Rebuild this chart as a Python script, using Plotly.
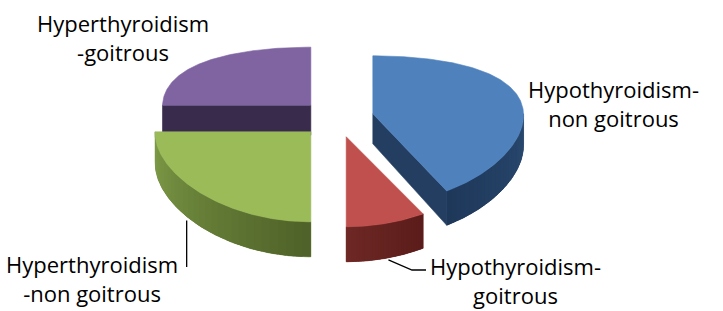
import numpy as np
import plotly.graph_objects as go

# ---------------- data ----------------
categories = ["Hypothyroidism-non goitrous", "Hypothyroidism-goitrous",
              "Hyperthyroidism-non goitrous", "Hyperthyroidism-goitrous"]
values = [42, 8, 25, 25]
label_text = ["Hypothyroidism-<br>non goitrous", "Hypothyroidism-<br>goitrous",
              "Hyperthyroidism<br>-non goitrous", "Hyperthyroidism<br>-goitrous"]

# ---------------- styles ----------------
top_colors = ["#4F81BD", "#C0504D", "#9BBB59", "#8064A2"]
cut_colors = ["#233E61", "#5E1F1D", "#4F6228", "#382B4B"]
side_right = ["#2A4A70", "#5A1C1A", "#4E6128", "#382B4B"]
side_left = ["#1E385A", "#6E2825", "#809E48", "#382B4B"]

W, H = 723, 311
CX, CY = 337.0, 118.5      # pie centre (pixel space)
EXPLODE, KE = 37.0, 0.51   # explosion distance, vertical squash of explosion
RX = 152.0
RY_MID, RY_PERSP = 74.0, 16.0
DEPTH, DEPTH_PERSP = 30.0, 5.0
PERSP_SCALE = 0.0018       # slices nearer the viewer look slightly wider


def hex2rgb(h):
    h = h.lstrip("#")
    return np.array([int(h[i:i + 2], 16) for i in (0, 2, 4)], dtype=float)


def lerp_col(c0, c1, t):
    c = hex2rgb(c0) * (1 - t) + hex2rgb(c1) * t
    return "rgb(%d,%d,%d)" % tuple(np.round(c).astype(int))


def rim(ax, ay, th):
    t = np.radians(th)
    s = 1 + PERSP_SCALE * (ay - CY)
    x = ax + RX * s * np.sin(t) * (1 - 0.02 * np.cos(t))
    y = ay - np.cos(t) * (RY_MID - RY_PERSP * np.cos(t))
    return x, y


def depth(th):
    return DEPTH - DEPTH_PERSP * np.cos(np.radians(th))


total = float(sum(values))
cum = np.concatenate([[0], np.cumsum(values)]) / total * 360.0

slices = []
for i, v in enumerate(values):
    a0, a1 = cum[i], cum[i + 1]
    b = np.radians((a0 + a1) / 2)
    ax = CX + EXPLODE * np.sin(b)
    ay = CY - EXPLODE * np.cos(b) * KE
    slices.append((i, a0, a1, ax, ay))

# back-to-front painter order
order = sorted(slices, key=lambda s: s[4])

fig = go.Figure()


def poly(xs, ys, color, lw=0.6):
    fig.add_trace(go.Scatter(x=list(xs) + [xs[0]], y=list(ys) + [ys[0]],
                             mode="lines", fill="toself", fillcolor=color,
                             line=dict(color=color, width=lw),
                             hoverinfo="skip", showlegend=False))


def side_poly(ax, ay, t0, t1):
    th = np.linspace(t0, t1, max(4, int(abs(t1 - t0) * 2)))
    xt, yt = rim(ax, ay, th)
    yb = yt + depth(th)
    return np.concatenate([xt, xt[::-1]]), np.concatenate([yt, yb[::-1]])


for i, a0, a1, ax, ay in order:
    d0 = DEPTH
    # cut faces
    for edge, vis in ((a0, np.sin(np.radians(a0)) < -1e-6),
                      (a1, np.sin(np.radians(a1)) > 1e-6)):
        if vis:
            rx_, ry_ = rim(ax, ay, edge)
            poly([ax, rx_, rx_, ax], [ay, ry_, ry_ + depth(edge), ay + d0],
                 cut_colors[i])
    # outer side (front half only), gradient built of overlapping strips
    s0, s1 = max(a0, 90.0), min(a1, 270.0)
    if s1 > s0:
        xs, ys = side_poly(ax, ay, s0, s1)
        poly(xs, ys, lerp_col(side_right[i], side_left[i], 0.5), lw=0.6)
        n = 30
        edges = np.linspace(s0, s1, n + 1)
        step = edges[1] - edges[0]
        for k in range(n):
            hi = min(edges[k + 1] + step * 0.8, s1)
            xs, ys = side_poly(ax, ay, edges[k], hi)
            col = lerp_col(side_right[i], side_left[i], (k + 0.5) / n)
            poly(xs, ys, col, lw=0)
    # top face
    th = np.linspace(a0, a1, 200)
    xt, yt = rim(ax, ay, th)
    poly(np.concatenate([[ax], xt]), np.concatenate([[ay], yt]), top_colors[i])

# leader lines (from slice geometry to label)
sl = {s[0]: s for s in slices}
# Hyperthyroidism-non goitrous (green)
_, g0, g1, gx, gy = sl[2]
lx, ly = rim(gx, gy, 232.0)
ly = ly + depth(232.0)
fig.add_trace(go.Scatter(x=[lx, lx], y=[ly + 4, 267], mode="lines",
                         line=dict(color="black", width=1.3),
                         hoverinfo="skip", showlegend=False))
# Hypothyroidism-goitrous (red)
_, r0, r1, rxp, ryp = sl[1]
lx, ly = rim(rxp, ryp, 164.7)
ly = ly + depth(164.7)
fig.add_trace(go.Scatter(x=[lx, 412, 426], y=[ly + 2, 270, 270], mode="lines",
                         line=dict(color="black", width=1.3),
                         hoverinfo="skip", showlegend=False))

# labels
label_pos = [(613, 103), (515, 280), (92, 278), (123, 37)]
for txt, (x, y) in zip(label_text, label_pos):
    fig.add_annotation(x=x, y=y, text=txt, showarrow=False, xanchor="center",
                       yanchor="middle", align="center",
                       font=dict(family="Open Sans", size=22, color="black"))

fig.update_layout(width=W, height=H, margin=dict(l=0, r=0, t=0, b=0),
                  paper_bgcolor="white", plot_bgcolor="white",
                  xaxis=dict(range=[0, W], visible=False, fixedrange=True),
                  yaxis=dict(range=[H, 0], visible=False, fixedrange=True))

fig.write_html("out.html")
